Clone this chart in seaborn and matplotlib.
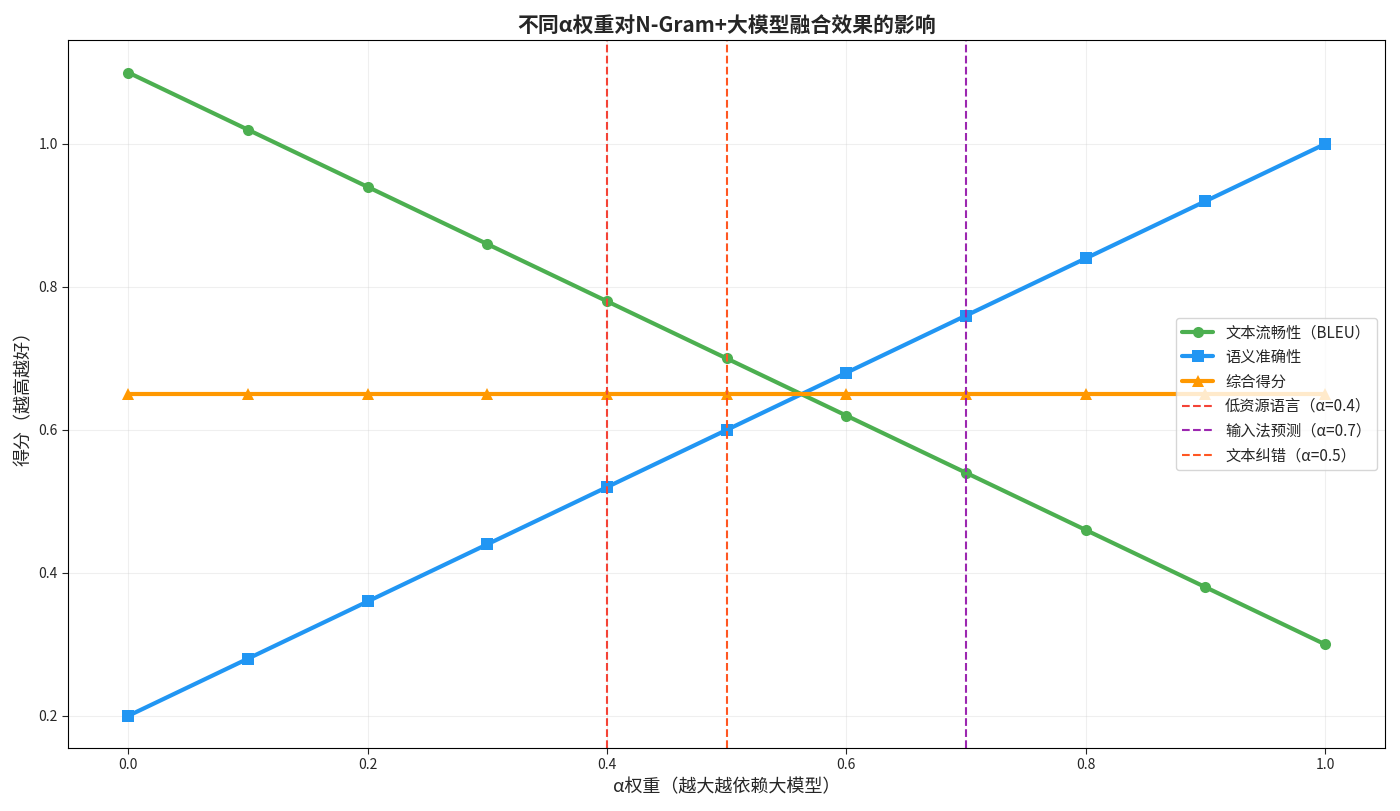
import matplotlib
matplotlib.use("Agg")
import matplotlib.pyplot as plt
import seaborn as sns
import pandas as pd

alpha = [0.0, 0.1, 0.2, 0.3, 0.4, 0.5, 0.6, 0.7, 0.8, 0.9, 1.0]
fluency = [1.10, 1.02, 0.94, 0.86, 0.78, 0.70, 0.62, 0.54, 0.46, 0.38, 0.30]
accuracy = [0.20, 0.28, 0.36, 0.44, 0.52, 0.60, 0.68, 0.76, 0.84, 0.92, 1.00]
combined = [0.65, 0.65, 0.65, 0.65, 0.65, 0.65, 0.65, 0.65, 0.65, 0.65, 0.65]
vlines = [(0.4, '低资源语言（α=0.4）', '#F44336'),
          (0.7, '输入法预测（α=0.7）', '#9C27B0'),
          (0.5, '文本纠错（α=0.5）', '#FF5722')]

sns.set_style("white")
plt.rcParams['font.family'] = ['Noto Sans CJK SC', 'DejaVu Sans']
plt.rcParams['axes.unicode_minus'] = False

df = pd.DataFrame({'alpha': alpha, 'f': fluency, 'a': accuracy, 'c': combined})
fig, ax = plt.subplots(figsize=(14, 8.11), dpi=100)
sns.lineplot(data=df, x='alpha', y='f', ax=ax, color='#4CAF50', marker='o', markersize=8,
             markeredgewidth=0, linewidth=3, label='文本流畅性（BLEU）')
sns.lineplot(data=df, x='alpha', y='a', ax=ax, color='#2196F3', marker='s', markersize=8,
             markeredgewidth=0, linewidth=3, label='语义准确性')
sns.lineplot(data=df, x='alpha', y='c', ax=ax, color='#FF9800', marker='^', markersize=9,
             markeredgewidth=0, linewidth=3, label='综合得分')
for x, lab, col in vlines:
    ax.axvline(x, color=col, linestyle='--', linewidth=1.5, label=lab)

ax.set_title('不同α权重对N-Gram+大模型融合效果的影响', fontsize=15, fontweight='bold')
ax.set_xlabel('α权重（越大越依赖大模型）', fontsize=13)
ax.set_ylabel('得分（越高越好）', fontsize=13)
ax.grid(True, alpha=0.3)
for s in ax.spines.values():
    s.set_color('black')
ax.tick_params(axis='both', which='both', left=True, bottom=True, length=4)
ax.legend(loc='center right', fontsize=11)
plt.tight_layout()
plt.savefig('out.png', dpi=100)
